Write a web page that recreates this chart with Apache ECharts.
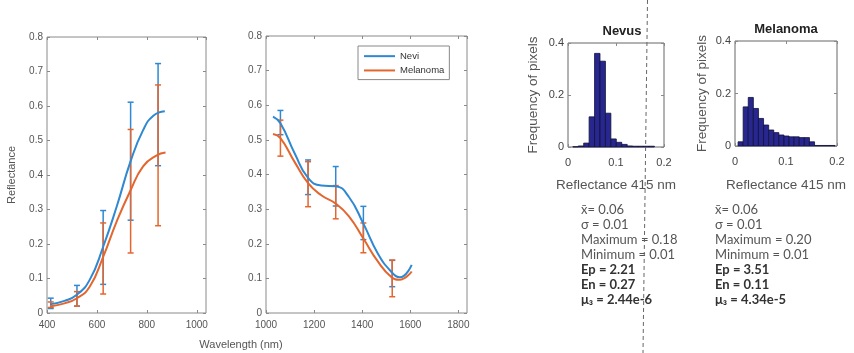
<!DOCTYPE html>
<html>
<head>
<meta charset="utf-8">
<script src="https://cdn.jsdelivr.net/npm/echarts@6.0.0/dist/echarts.min.js"></script>
<style>
  html, body { margin: 0; padding: 0; background: #fff; }
  #chart { width: 854px; height: 353px; }
</style>
</head>
<body>
<div id="chart"></div>
<script>
// ---- data ----
// left panel (visible range)
const leftWl = [415, 520, 625, 735, 845]
const leftNeviMean = [0.028, 0.05, 0.19, 0.44, 0.575]
const leftNeviErr = [0.015, 0.03, 0.107, 0.171, 0.148]
const leftMelMean = [0.024, 0.041, 0.158, 0.353, 0.457]
const leftMelErr = [0.008, 0.021, 0.103, 0.179, 0.204]
const leftNeviFit = [[412, 0.025], [470, 0.035], [518, 0.052], [571, 0.096], [625, 0.192], [679, 0.308], [735, 0.44], [785, 0.53], [826, 0.572], [872, 0.585]]
const leftMelFit = [[412, 0.019], [470, 0.028], [518, 0.042], [571, 0.076], [625, 0.163], [679, 0.265], [733, 0.353], [785, 0.425], [838, 0.456], [875, 0.465]]

// middle panel (NIR range)
const midWl = [1060, 1175, 1290, 1405, 1525]
const midNeviMean = [0.55, 0.392, 0.366, 0.26, 0.114]
const midNeviErr = [0.035, 0.05, 0.057, 0.048, 0.038]
const midMelMean = [0.505, 0.372, 0.32, 0.217, 0.10]
const midMelErr = [0.052, 0.065, 0.048, 0.043, 0.053]
const midNeviFit = [[1029, 0.567], [1060, 0.548], [1120, 0.46], [1175, 0.39], [1230, 0.368], [1290, 0.366], [1345, 0.335], [1405, 0.258], [1465, 0.172], [1520, 0.12], [1557, 0.103], [1606, 0.139]]
const midMelFit = [[1029, 0.517], [1060, 0.505], [1120, 0.435], [1175, 0.375], [1230, 0.34], [1290, 0.316], [1345, 0.279], [1405, 0.215], [1465, 0.149], [1520, 0.105], [1555, 0.096], [1606, 0.12]]

// histograms of reflectance at 415 nm
const nevusBinStart = 0.01
const nevusBinWidth = 0.01133
const nevusFreq = [0.001, 0.004, 0.015, 0.116, 0.36, 0.33, 0.13, 0.031, 0.018, 0.01, 0.004, 0.003, 0.003, 0.003, 0.003]
const melBinStart = 0.006
const melBinWidth = 0.01
const melFreq = [0.016, 0.149, 0.185, 0.143, 0.105, 0.08, 0.061, 0.051, 0.042, 0.038, 0.035, 0.035, 0.032, 0.032, 0.016, 0.002, 0.002, 0.002, 0.002]

// stats text under the histograms
const nevusStats = ['x\u0304= 0.06', '\u03c3 = 0.01', 'Maximum = 0.18', 'Minimum = 0.01', 'Ep = 2.21', 'En = 0.27', '\u03bc\u2083 = 2.44e-6']
const melStats = ['x\u0304= 0.06', '\u03c3 = 0.01', 'Maximum = 0.20', 'Minimum = 0.01', 'Ep = 3.51', 'En = 0.11', '\u03bc\u2083 = 4.34e-5']
const boldFrom = 4

// ---- styling ----
const FONT = '"Liberation Sans", Arial, sans-serif'
const BLUE = '#2f88d2'
const ORANGE = '#e4662f'
const BOX = '#8a8a8a'

const errRows = (xs, mean, err) => xs.map((x, i) => [x, mean[i] - err[i], mean[i] + err[i]])
const binRows = (start, width, freq) => freq.map((f, i) => [start + i * width, start + (i + 1) * width, f])

function errRender(color) {
  return function (params, api) {
    const x = api.value(0)
    const hi = api.coord([x, api.value(2)])
    const lo = api.coord([x, api.value(1)])
    const w = 3
    const style = { stroke: color, lineWidth: 1.5 }
    return {
      type: 'group',
      children: [
        { type: 'line', shape: { x1: hi[0], y1: hi[1], x2: lo[0], y2: lo[1] }, style },
        { type: 'line', shape: { x1: hi[0] - w, y1: hi[1], x2: hi[0] + w, y2: hi[1] }, style },
        { type: 'line', shape: { x1: lo[0] - w, y1: lo[1], x2: lo[0] + w, y2: lo[1] }, style },
      ],
    }
  }
}

function histRender(params, api) {
  const p0 = api.coord([api.value(0), 0])
  const p1 = api.coord([api.value(1), api.value(2)])
  return {
    type: 'rect',
    shape: { x: p0[0], y: p1[1], width: p1[0] - p0[0], height: p0[1] - p1[1] },
    style: { fill: '#27278f', stroke: '#12123a', lineWidth: 0.8 },
  }
}

// one value axis; labels only on bottom / left ones
function ax(gridIndex, position, min, max, interval, label, extra) {
  return Object.assign({
    type: 'value', gridIndex, position, min, max, interval,
    axisLine: { show: false, onZero: false },
    axisTick: { show: true, inside: true, length: 3, lineStyle: { color: BOX } },
    splitLine: { show: false },
    axisLabel: label ? Object.assign({ color: '#555', fontSize: 10, fontFamily: FONT, showMinLabel: true }, label) : { show: false },
  }, extra || {})
}

const every = step => v => (Math.abs(v / step - Math.round(v / step)) < 1e-6 ? String(+v.toFixed(2)) : '')

const gridBox = { show: true, borderColor: BOX, borderWidth: 1, backgroundColor: '#fff' }
const lineSeries = (name, xi, data, color) => ({
  name, type: 'line', xAxisIndex: xi, yAxisIndex: xi, data,
  smooth: 0.5, symbol: 'none',
  lineStyle: { color, width: 2 }, itemStyle: { color },
})

const option = {
  animation: false,
  backgroundColor: '#fff',
  grid: [
    Object.assign({ left: 47, top: 37, width: 159, height: 276 }, gridBox),
    Object.assign({ left: 266, top: 36, width: 201, height: 277 }, gridBox),
    Object.assign({ left: 568, top: 43, width: 96, height: 104 }, gridBox, { borderColor: '#666' }),
    Object.assign({ left: 735, top: 41, width: 102, height: 105 }, gridBox, { borderColor: '#666' }),
  ],
  xAxis: [
    ax(0, 'bottom', 400, 1037, 200, { margin: 7, showMaxLabel: false, formatter: every(200) }),
    ax(0, 'top', 400, 1037, 200, null),
    ax(1, 'bottom', 1000, 1836, 200, { margin: 7, showMaxLabel: false, formatter: every(200) }),
    ax(1, 'top', 1000, 1836, 200, null),
    ax(2, 'bottom', 0, 0.2, 0.1, { margin: 10, fontSize: 11, color: '#444', formatter: every(0.1) },
      { name: 'Reflectance 415 nm', nameLocation: 'middle', nameGap: 31, nameTextStyle: { fontSize: 13.5, color: '#555', fontFamily: FONT } }),
    ax(2, 'top', 0, 0.2, 0.1, null),
    ax(3, 'bottom', 0, 0.2, 0.1, { margin: 10, fontSize: 11, color: '#444', formatter: every(0.1) },
      { name: 'Reflectance 415 nm', nameLocation: 'middle', nameGap: 32, nameTextStyle: { fontSize: 13.5, color: '#555', fontFamily: FONT } }),
    ax(3, 'top', 0, 0.2, 0.1, null),
  ],
  yAxis: [
    ax(0, 'left', 0, 0.8, 0.1, { margin: 4, formatter: every(0.1) },
      { name: 'Reflectance', nameLocation: 'middle', nameGap: 30, nameTextStyle: { fontSize: 11, color: '#555', fontFamily: FONT } }),
    ax(0, 'right', 0, 0.8, 0.1, null),
    ax(1, 'left', 0, 0.8, 0.1, { margin: 4, formatter: every(0.1) }),
    ax(1, 'right', 0, 0.8, 0.1, null),
    ax(2, 'left', 0, 0.4, 0.2, { margin: 4, fontSize: 11, color: '#444', formatter: every(0.2) },
      { name: 'Frequency of pixels', nameLocation: 'middle', nameGap: 28, nameTextStyle: { fontSize: 13.5, color: '#555', fontFamily: FONT } }),
    ax(2, 'right', 0, 0.4, 0.2, null),
    ax(3, 'left', 0, 0.4, 0.2, { margin: 4, fontSize: 11, color: '#444', formatter: every(0.2) },
      { name: 'Frequency of pixels', nameLocation: 'middle', nameGap: 26, nameTextStyle: { fontSize: 13.5, color: '#555', fontFamily: FONT } }),
    ax(3, 'right', 0, 0.4, 0.2, null),
  ],
  legend: {
    data: [{ name: 'Nevi', icon: 'rect' }, { name: 'Melanoma', icon: 'rect' }],
    orient: 'vertical',
    left: 358,
    top: 46,
    padding: [5, 5, 4, 6],
    itemWidth: 31,
    itemHeight: 2,
    itemGap: 4,
    backgroundColor: '#fff',
    borderColor: '#888',
    borderWidth: 1,
    borderRadius: 0,
    selectedMode: false,
    textStyle: { fontSize: 9.5, color: '#333', fontFamily: FONT, lineHeight: 10.3 },
  },
  series: [
    lineSeries('Nevi', 0, leftNeviFit, BLUE),
    lineSeries('Melanoma', 0, leftMelFit, ORANGE),
    { name: 'nevi-err-l', type: 'custom', xAxisIndex: 0, yAxisIndex: 0, data: errRows(leftWl, leftNeviMean, leftNeviErr), renderItem: errRender(BLUE), encode: { x: 0, y: [1, 2] } },
    { name: 'mel-err-l', type: 'custom', xAxisIndex: 0, yAxisIndex: 0, data: errRows(leftWl, leftMelMean, leftMelErr), renderItem: errRender(ORANGE), encode: { x: 0, y: [1, 2] } },

    lineSeries('Nevi', 2, midNeviFit, BLUE),
    lineSeries('Melanoma', 2, midMelFit, ORANGE),
    { name: 'nevi-err-m', type: 'custom', xAxisIndex: 2, yAxisIndex: 2, data: errRows(midWl, midNeviMean, midNeviErr), renderItem: errRender(BLUE), encode: { x: 0, y: [1, 2] } },
    { name: 'mel-err-m', type: 'custom', xAxisIndex: 2, yAxisIndex: 2, data: errRows(midWl, midMelMean, midMelErr), renderItem: errRender(ORANGE), encode: { x: 0, y: [1, 2] } },

    { name: 'nevus-hist', type: 'custom', xAxisIndex: 4, yAxisIndex: 4, data: binRows(nevusBinStart, nevusBinWidth, nevusFreq), renderItem: histRender, encode: { x: [0, 1], y: 2 } },
    { name: 'mel-hist', type: 'custom', xAxisIndex: 6, yAxisIndex: 6, data: binRows(melBinStart, melBinWidth, melFreq), renderItem: histRender, encode: { x: [0, 1], y: 2 } },
  ],
  graphic: [
    { type: 'text', x: 241, y: 345, style: { text: 'Wavelength (nm)', font: '11px ' + FONT, fill: '#555', align: 'center', verticalAlign: 'middle' } },
    { type: 'text', x: 622, y: 31, style: { text: 'Nevus', font: 'bold 13px ' + FONT, fill: '#222', align: 'center', verticalAlign: 'middle' } },
    { type: 'text', x: 786, y: 29, style: { text: 'Melanoma', font: 'bold 13px ' + FONT, fill: '#222', align: 'center', verticalAlign: 'middle' } },
    { type: 'line', shape: { x1: 647.5, y1: 0, x2: 643, y2: 353 }, style: { stroke: '#666', lineWidth: 1, lineDash: [4, 3] }, z: 100 },
  ]
    .concat(nevusStats.map((t, i) => ({
      type: 'text', x: 581, y: 210 + i * 15,
      style: { text: t, font: (i >= boldFrom ? 'bold ' : '') + '13px Lato, "Open Sans", sans-serif', fill: i >= boldFrom ? '#333' : '#555', verticalAlign: 'middle' },
    })))
    .concat(melStats.map((t, i) => ({
      type: 'text', x: 715, y: 210 + i * 15,
      style: { text: t, font: (i >= boldFrom ? 'bold ' : '') + '13px Lato, "Open Sans", sans-serif', fill: i >= boldFrom ? '#333' : '#555', verticalAlign: 'middle' },
    }))),
}

const chart = echarts.init(document.getElementById('chart'), null, { renderer: 'canvas' })
chart.setOption(option)
</script>
</body>
</html>
